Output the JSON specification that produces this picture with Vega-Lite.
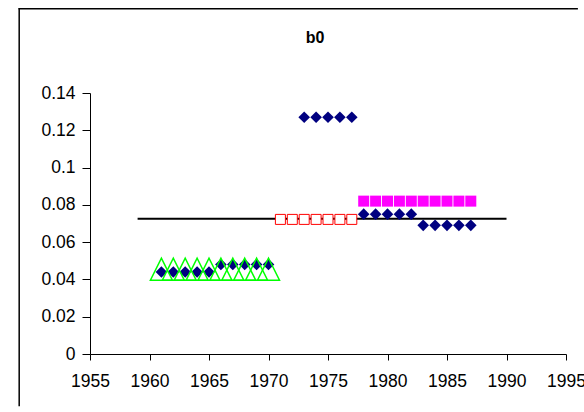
{
  "$schema": "https://vega.github.io/schema/vega-lite/v6.json",
  "autosize": "none",
  "width": 476,
  "height": 261,
  "padding": {"left": 90, "top": 93, "right": 18, "bottom": 58},
  "background": "white",
  "title": {
    "text": "b0",
    "font": "Liberation Sans",
    "fontSize": 16,
    "fontWeight": "bold",
    "color": "black",
    "anchor": "middle",
    "frame": "group",
    "baseline": "alphabetic",
    "offset": -52,
    "dx": -13
  },
  "config": {
    "view": {"stroke": null},
    "axis": {
      "labelFont": "Liberation Sans",
      "labelFontSize": 17.5,
      "labelColor": "black",
      "domainColor": "black",
      "tickColor": "black",
      "labelOverlap": false,
      "labelFlush": false,
      "grid": false,
      "title": null
    }
  },
  "datasets": {
    "diamonds": [
      {"year": 1961, "value": 0.044}, {"year": 1962, "value": 0.044}, {"year": 1963, "value": 0.044}, {"year": 1964, "value": 0.044}, {"year": 1965, "value": 0.044},
      {"year": 1966, "value": 0.048}, {"year": 1967, "value": 0.048}, {"year": 1968, "value": 0.048}, {"year": 1969, "value": 0.048}, {"year": 1970, "value": 0.048},
      {"year": 1973, "value": 0.127}, {"year": 1974, "value": 0.127}, {"year": 1975, "value": 0.127}, {"year": 1976, "value": 0.127}, {"year": 1977, "value": 0.127},
      {"year": 1978, "value": 0.075}, {"year": 1979, "value": 0.075}, {"year": 1980, "value": 0.075}, {"year": 1981, "value": 0.075}, {"year": 1982, "value": 0.075},
      {"year": 1983, "value": 0.069}, {"year": 1984, "value": 0.069}, {"year": 1985, "value": 0.069}, {"year": 1986, "value": 0.069}, {"year": 1987, "value": 0.069}
    ],
    "triangles": [
      {"year": 1961, "value": 0.0455}, {"year": 1962, "value": 0.0455}, {"year": 1963, "value": 0.0455}, {"year": 1964, "value": 0.0455}, {"year": 1965, "value": 0.0455},
      {"year": 1966, "value": 0.0455}, {"year": 1967, "value": 0.0455}, {"year": 1968, "value": 0.0455}, {"year": 1969, "value": 0.0455}, {"year": 1970, "value": 0.0455}
    ],
    "openSquares": [
      {"year": 1971, "value": 0.0722}, {"year": 1972, "value": 0.0722}, {"year": 1973, "value": 0.0722}, {"year": 1974, "value": 0.0722},
      {"year": 1975, "value": 0.0722}, {"year": 1976, "value": 0.0722}, {"year": 1977, "value": 0.0722}
    ],
    "filledSquares": [
      {"year": 1978, "value": 0.082}, {"year": 1979, "value": 0.082}, {"year": 1980, "value": 0.082}, {"year": 1981, "value": 0.082}, {"year": 1982, "value": 0.082},
      {"year": 1983, "value": 0.082}, {"year": 1984, "value": 0.082}, {"year": 1985, "value": 0.082}, {"year": 1986, "value": 0.082}, {"year": 1987, "value": 0.082}
    ],
    "mean": [
      {"year": 1959, "value": 0.0725}, {"year": 1990, "value": 0.0725}
    ]
  },
  "layer": [
    {
      "data": {"name": "mean"},
      "mark": {"type": "line", "color": "black", "strokeWidth": 2},
      "encoding": {
        "x": {
          "field": "year", "type": "quantitative",
          "scale": {"domain": [1955, 1995], "nice": false, "zero": false},
          "axis": {"values": [1955, 1960, 1965, 1970, 1975, 1980, 1985, 1990, 1995], "format": "d", "tickSize": 6, "labelPadding": 12}
        },
        "y": {
          "field": "value", "type": "quantitative",
          "scale": {"domain": [0, 0.14], "nice": false},
          "axis": {"values": [0, 0.02, 0.04, 0.06, 0.08, 0.1, 0.12, 0.14], "tickCount": 8, "format": "~g", "tickSize": 8, "labelPadding": 7}
        }
      }
    },
    {
      "data": {"values": [{"edge": "top"}]},
      "mark": {"type": "rule", "stroke": "black", "strokeWidth": 1.5, "clip": false},
      "encoding": {
        "x": {"datum": 1949.0, "type": "quantitative", "axis": {"values": [1955, 1960, 1965, 1970, 1975, 1980, 1985, 1990, 1995], "format": "d", "tickSize": 6, "labelPadding": 12}},
        "x2": {"datum": 1996.0},
        "y": {"datum": 0.1852, "type": "quantitative", "axis": {"values": [0, 0.02, 0.04, 0.06, 0.08, 0.1, 0.12, 0.14], "tickCount": 8, "format": "~g", "tickSize": 8, "labelPadding": 7}}
      }
    },
    {
      "data": {"values": [{"edge": "left"}]},
      "mark": {"type": "rule", "stroke": "black", "strokeWidth": 1.5, "clip": false},
      "encoding": {
        "x": {"datum": 1949.05, "type": "quantitative"},
        "y": {"datum": 0.1856, "type": "quantitative"},
        "y2": {"datum": -0.028}
      }
    },
    {
      "data": {"name": "openSquares"},
      "mark": {"type": "point", "shape": "square", "size": 100, "filled": false, "fill": "white", "fillOpacity": 1, "stroke": "#FF0000", "strokeWidth": 1, "opacity": 1},
      "encoding": {
        "x": {"field": "year", "type": "quantitative"},
        "y": {"field": "value", "type": "quantitative"}
      }
    },
    {
      "data": {"name": "filledSquares"},
      "mark": {"type": "point", "shape": "square", "size": 121, "filled": true, "color": "#FF00FF", "opacity": 1},
      "encoding": {
        "x": {"field": "year", "type": "quantitative"},
        "y": {"field": "value", "type": "quantitative"}
      }
    },
    {
      "data": {"name": "diamonds"},
      "mark": {"type": "point", "shape": "diamond", "size": 135, "filled": true, "color": "#000080", "opacity": 1},
      "encoding": {
        "x": {"field": "year", "type": "quantitative"},
        "y": {"field": "value", "type": "quantitative"}
      }
    },
    {
      "data": {"name": "triangles"},
      "mark": {"type": "point", "shape": "M-1,1L1,1L0,-1Z", "size": 484, "filled": false, "stroke": "#00FF00", "strokeWidth": 1.5, "opacity": 1},
      "encoding": {
        "x": {"field": "year", "type": "quantitative"},
        "y": {"field": "value", "type": "quantitative"}
      }
    }
  ]
}
